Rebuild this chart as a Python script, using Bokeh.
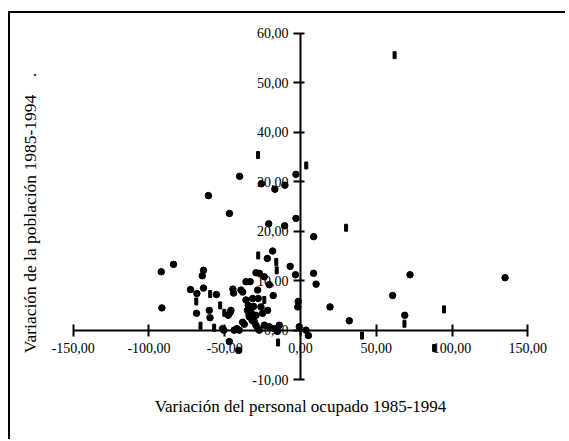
from bokeh.plotting import figure
from bokeh.models import LinearAxis, FixedTicker, Range1d, CustomJSTickFormatter
from bokeh.embed import file_html
from bokeh.resources import INLINE

x_ticks = [-150, -100, -50, 0, 50, 100, 150]
y_ticks = [-10, 0, 10, 20, 30, 40, 50, 60]
x_title = "Variación del personal ocupado 1985-1994"
y_title = "Variación de la población 1985-1994\u00a0\u00a0\u00a0\u00a0.\u00a0\u00a0\u00a0"

# points drawn as diamonds
dia_x = [-3.0, -40.2, -25.8, -16.9, -10.3, -60.8, -46.9, -3.0, -21.0, -10.5, 8.7,
         -21.9, -18.4, -6.8, -3.3, 8.6, 10.3, -29.4, -27.2, -23.9, -20.6, -18.0, -21.7,
         -1.5, -1.8, 19.5, 32.2, 60.8, 68.8, 72.3, 135.0, 3.6, 5.2, -47.0, -40.8,
         -91.9, -83.8, -91.5, -72.6, -68.4, -64.0, -64.8, -64.0, -68.6, -60.2, -59.7,
         -55.5, -51.5, -50.6, -46.4, -47.7, -45.9, -44.6, -44.2, -43.8, -40.4, -42.0,
         -38.2, -39.3, -38.2, -36.0, -33.2, -36.0, -34.5, -32.7, -33.8, -35.0, -31.6,
         -29.4, -30.5, -27.9, -28.3, -26.1, -25.0, -29.4, -28.3, -27.2, -23.9, -20.6,
         -17.3, -15.5, -14.0, -37.1, -32.0, -34.0, -31.0, -0.8]
dia_y = [31.5, 31.1, 29.6, 28.5, 29.3, 27.2, 23.6, 22.6, 21.5, 21.1, 18.9,
         14.5, 16.0, 12.9, 11.2, 11.5, 9.3, 11.6, 11.5, 10.8, 9.2, 7.0, 4.0,
         5.8, 4.7, 4.7, 1.9, 7.0, 3.0, 11.2, 10.6, 0.0, -1.1, -2.3, -4.1,
         11.8, 13.3, 4.5, 8.2, 7.4, 12.1, 11.0, 8.5, 3.4, 4.0, 2.5,
         7.2, 0.3, 0.0, 3.6, 3.0, 4.0, 8.3, 7.5, 0.0, 0.0, 0.3,
         1.6, 8.1, 7.7, 9.8, 9.8, 6.1, 5.0, 3.7, 2.7, 4.0, 6.4,
         3.0, 1.7, 6.4, 8.1, 4.7, 3.4, 1.0, 0.3, 0.0, 1.0, 0.7,
         0.3, -0.2, 1.0, 1.2, 2.0, 3.2, 4.8, 0.7]

# points drawn as short vertical dashes
dash_x = [62.1, -28.0, 3.8, 30.1, -27.9, -16.0, -15.7, -23.9, 40.6, 68.6, 94.7, 88.2,
          -14.8, -68.8, -66.0, -59.6, -53.0, -57.0, -50.3]
dash_y = [55.6, 35.4, 33.3, 20.7, 15.1, 13.8, 12.1, 6.1, -1.1, 1.3, 4.2, -3.6,
          -2.5, 5.8, 0.9, 7.3, 5.0, 0.5, 3.5]

SERIF = "Liberation Serif"

p = figure(width=557, height=428, output_backend="svg", toolbar_location=None,
           x_range=Range1d(-165, 165), y_range=Range1d(-12, 62),
           x_axis_type=None, y_axis_type=None,
           min_border_left=40, min_border_right=17, min_border_top=10, min_border_bottom=52,
           background_fill_color="white", border_fill_color="white",
           outline_line_color=None,
           styles={"margin-left": "8px", "margin-top": "11px",
                   "border-left": "2px solid black", "border-top": "2px solid black"})
p.grid.visible = False

fmt = CustomJSTickFormatter(code="return tick.toFixed(2).replace('.', ',');")

xa = LinearAxis(ticker=FixedTicker(ticks=x_ticks), formatter=fmt, fixed_location=0,
                bounds=(x_ticks[0], x_ticks[-1]))
ya = LinearAxis(ticker=FixedTicker(ticks=y_ticks), formatter=fmt, fixed_location=0,
                bounds=(y_ticks[0], y_ticks[-1]))
for ax in (xa, ya):
    ax.axis_line_color = "black"
    ax.axis_line_width = 2
    ax.major_tick_line_color = "black"
    ax.major_tick_line_width = 2
    ax.minor_tick_line_color = None
    ax.major_label_text_font = SERIF
    ax.major_label_text_font_size = "14px"
    ax.major_label_text_color = "black"
xa.major_tick_in = 6
xa.major_tick_out = 6
xa.major_label_standoff = 7
ya.major_tick_in = 4
ya.major_tick_out = 7
ya.major_label_standoff = 5
p.add_layout(xa, "below")
p.add_layout(ya, "left")

# title axes (labels only)
xt = LinearAxis(ticker=FixedTicker(ticks=[]), axis_label=x_title)
yt = LinearAxis(ticker=FixedTicker(ticks=[]), axis_label=y_title)
for ax, so, fs in ((xt, 7, "17px"), (yt, 11, "17.5px")):
    ax.axis_line_color = None
    ax.major_tick_line_color = None
    ax.minor_tick_line_color = None
    ax.major_tick_out = 0
    ax.major_tick_in = 0
    ax.major_label_standoff = 0
    ax.axis_label_standoff = so
    ax.axis_label_text_font = SERIF
    ax.axis_label_text_font_size = fs
    ax.axis_label_text_font_style = "normal"
    ax.axis_label_text_color = "black"
p.add_layout(xt, "below")
p.add_layout(yt, "left")

p.scatter(dia_x, dia_y, marker="circle", size=6.5, color="black", line_width=1)
p.rect(dash_x, dash_y, width=3, height=7, width_units="screen", height_units="screen",
       color="black")

open("out.html", "w").write(file_html(p, INLINE))
